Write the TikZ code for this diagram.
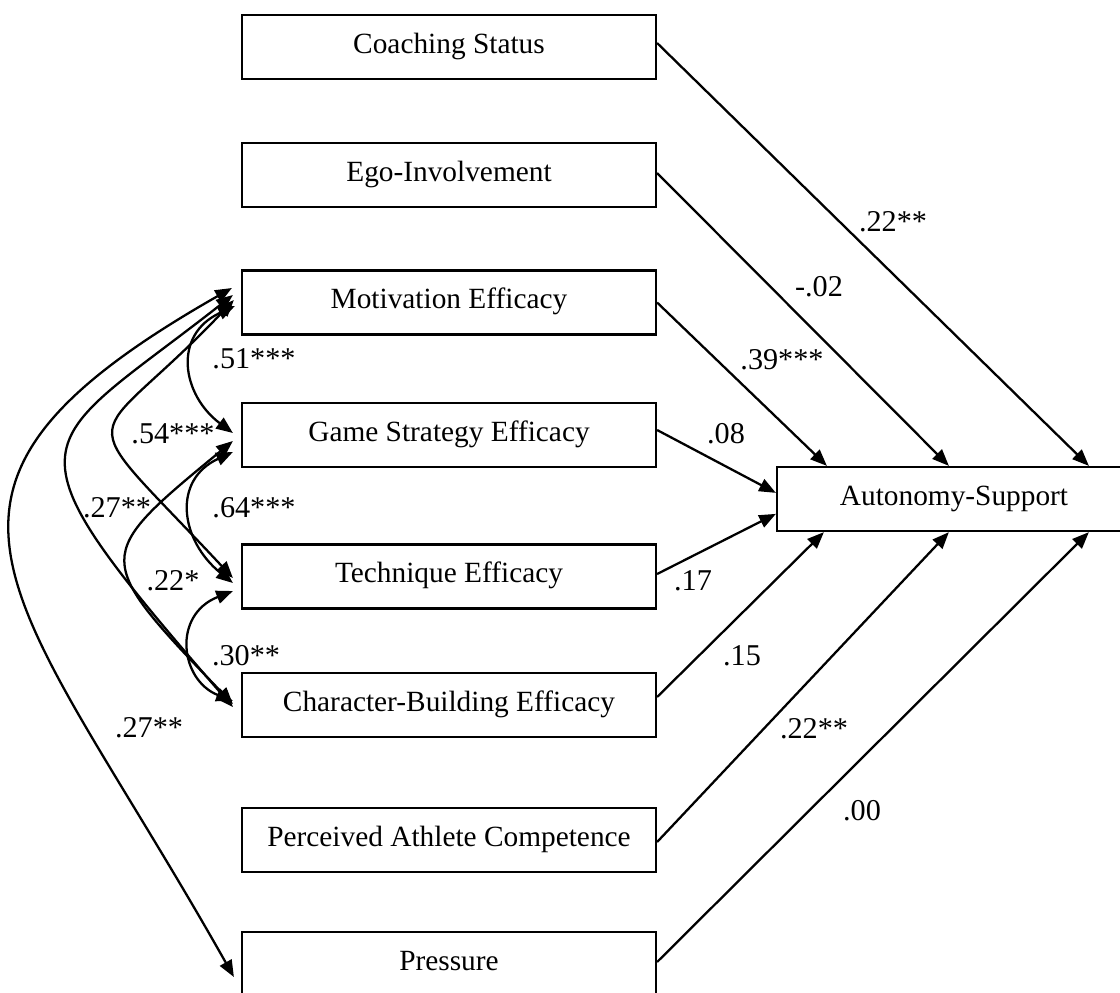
\documentclass[tikz,border=0pt]{standalone}
\usepackage{fontspec}
\setmainfont{Liberation Serif}
\usetikzlibrary{arrows.meta,calc}
\begin{document}
\begin{tikzpicture}[x=0.02cm,y=-0.02cm,
  box/.style={draw,line width=1.3pt,minimum width=8.28cm,minimum height=1.28cm,inner sep=0pt,
    text height=11pt,text depth=4pt,font=\fontsize{16.7}{20}\selectfont},
  lab/.style={inner sep=0pt,font=\fontsize{17.2}{20}\selectfont},
  conn/.style={line width=1.3pt,-{Triangle[length=9.5pt,width=7.5pt]}},
  corr/.style={line width=1.3pt,{Triangle[length=9.5pt,width=7.5pt]}-{Triangle[length=9.5pt,width=7.5pt]}}]
\useasboundingbox (0,0) rectangle (1120,992);

% boxes
\node[box] (coach) at (449,47) {Coaching Status};
\node[box] (ego) at (449,175) {Ego-Involvement};
\node[box] (mot) at (449,302.5) {Motivation Efficacy};
\node[box] (game) at (449,435) {Game Strategy Efficacy};
\node[box] (tech) at (449,576.5) {Technique Efficacy};
\node[box] (char) at (449,705) {Character-Building Efficacy};
\node[box] (perc) at (449,840) {Perceived Athlete Competence};
\node[box] (pres) at (449,964) {Pressure};
\node[box,minimum width=7.08cm] (auto) at (954,499) {Autonomy-Support};

% paths to Autonomy-Support
\draw[conn] ($(coach.east)+(0,-4)$) -- ($(auto.north west)+(313,0)$);
\draw[conn] ($(ego.east)+(0,-2)$) -- ($(auto.north west)+(173,0)$);
\draw[conn] (mot.east) -- ($(auto.north west)+(51,0)$);
\draw[conn] ($(game.east)+(0,-5)$) -- ($(auto.north west)+(0,27)$);
\draw[conn] ($(tech.east)+(0,-2.5)$) -- ($(auto.north west)+(0,48)$);
\draw[conn] ($(char.east)+(0,-8)$) -- ($(auto.south west)+(48,0)$);
\draw[conn] ($(perc.east)+(0,2)$) -- ($(auto.south west)+(173,0)$);
\draw[conn] ($(pres.east)+(0,-2)$) -- ($(auto.south west)+(313,0)$);

% path coefficients
\node[lab] (c1) at (893,222) {.22**};
\node[lab] (c2) at (819,287) {-.02};
\node[lab] (c3) at (782,360) {.39***};
\node[lab] (c4) at (726,434) {.08};
\node[lab] (c5) at (693,581) {.17};
\node[lab] (c6) at (742,656) {.15};
\node[lab] (c7) at (814,729) {.22**};
\node[lab] (c8) at (862,811) {.00};

% correlations
\draw[corr] ($(mot.west)+(-6,3.5)$) .. controls (172,335) and (182,395) .. ($(game.west)+(-8,-2)$);
\draw[corr] ($(game.west)+(-8,17)$) .. controls (172,480) and (180,540) .. ($(tech.west)+(-8,6.5)$);
\draw[corr] ($(tech.west)+(-8,14.5)$) .. controls (172,615) and (180,680) .. ($(char.west)+(-8,-4)$);
\draw[corr] ($(mot.west)+(-7,-2.5)$) .. controls (86,456) and (65,398) .. ($(tech.west)+(-8,1.5)$);
\draw[corr] ($(game.west)+(-8,6)$) .. controls (92,557) and (92,557) .. ($(char.west)+(-8,-1)$);
\draw[corr] ($(mot.west)+(-8,-7.5)$) .. controls (33,452) and (-7,431) .. ($(char.west)+(-8,2)$);
\draw[corr] ($(mot.west)+(-9,-14.5)$) .. controls (-130,494) and (14,587) .. ($(pres.west)+(-7,13)$);

% correlation coefficients
\node[lab] (r1) at (254,359) {.51***};
\node[lab] (r2) at (173,434) {.54***};
\node[lab] (r3) at (117,508) {.27**};
\node[lab] (r4) at (254,508) {.64***};
\node[lab] (r5) at (173,581) {.22*};
\node[lab] (r6) at (246,656) {.30**};
\node[lab] (r7) at (149,728) {.27**};
\end{tikzpicture}
\end{document}
